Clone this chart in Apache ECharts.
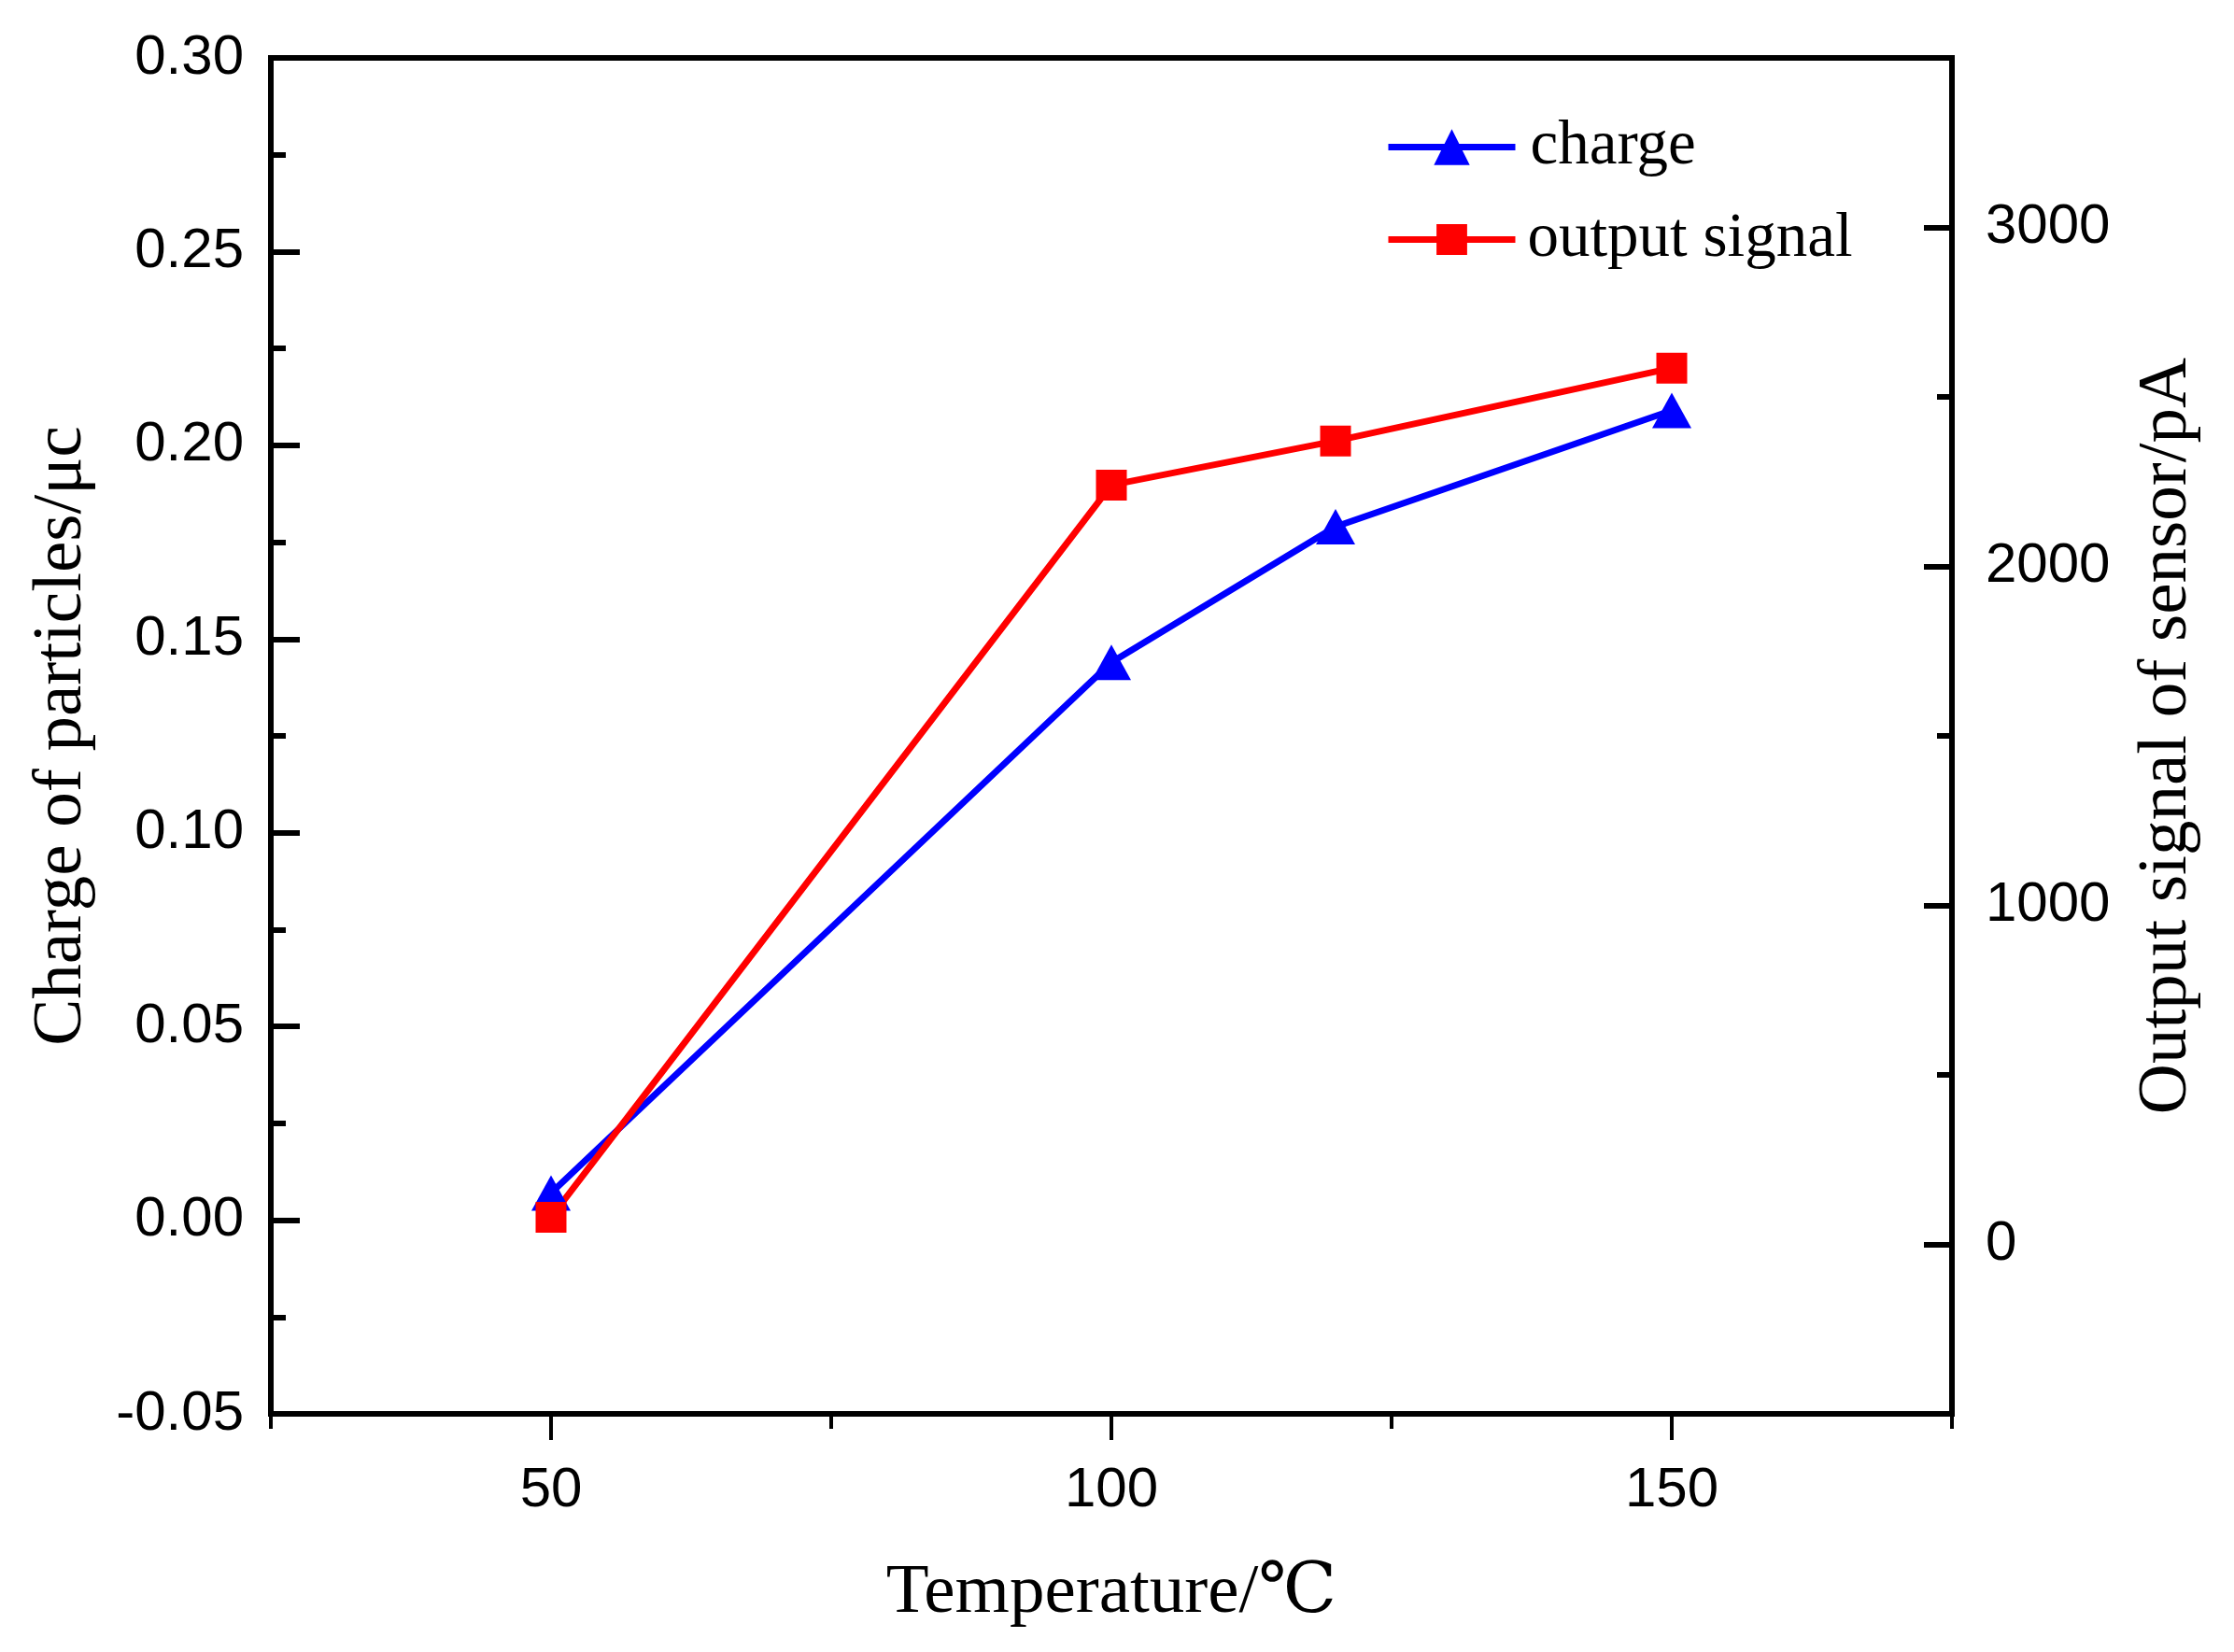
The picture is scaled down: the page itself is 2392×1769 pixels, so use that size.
<!DOCTYPE html>
<html><head><meta charset="utf-8">
<script src="https://cdn.jsdelivr.net/npm/echarts@6/dist/echarts.min.js"></script>
<style>html,body{margin:0;padding:0;background:#fff}#c{width:2392px;height:1769px}</style>
</head><body><div id="c"></div>
<script>
const temperatures = [50, 100, 120, 150];
const chargeValues = [0.007, 0.144, 0.179, 0.209];
const signalValues = [80, 2240, 2370, 2585];
const xTickLabels = [50, 100, 150];
const xMinorTicks = [25, 75, 125, 175];
const rightTickLabels = [0, 1000, 2000, 3000];
const rightMinorTicks = [-500, 500, 1500, 2500, 3500];

const chart = echarts.init(document.getElementById('c'), null, {renderer: 'canvas'});
const serif = '"Liberation Serif", "DejaVu Serif", "Times New Roman", serif';
const sans = '"Liberation Sans", Arial, sans-serif';
const option = {
  backgroundColor: '#fff',
  animation: false,
  grid: {left: 290, right: 302, top: 62, bottom: 255, show: true, borderWidth: 6, borderColor: '#000'},
  legend: [
    {data: ['charge'], left: 1483, top: 124, padding: 0, itemWidth: 136, itemHeight: 48, selectedMode: false,
     lineStyle: {width: 7},
     textStyle: {fontFamily: serif, fontSize: 67, color: '#000', padding: [0, 0, 0, 11]}},
    {data: ['output signal'], left: 1483, top: 223, padding: 0, itemWidth: 136, itemHeight: 41, selectedMode: false,
     lineStyle: {width: 7},
     textStyle: {fontFamily: serif, fontSize: 67, color: '#000', padding: [0, 0, 0, 8]}}
  ],
  xAxis: [
    {type: 'value', min: 25, max: 175, position: 'bottom',
     name: 'Temperature/℃', nameLocation: 'middle', nameGap: 155,
     nameTextStyle: {fontFamily: serif, fontSize: 75, color: '#000'},
     axisLine: {show: true, onZero: false, lineStyle: {color: '#000', width: 6}},
     axisTick: {show: true, inside: false, length: 28, lineStyle: {color: '#000', width: 4}, customValues: xTickLabels},
     axisLabel: {show: true, customValues: xTickLabels, margin: 52, fontFamily: sans, fontSize: 60, color: '#000'},
     splitLine: {show: false}},
    {type: 'value', min: 25, max: 175, position: 'bottom',
     axisLine: {show: false, onZero: false},
     axisTick: {show: true, inside: false, length: 16, lineStyle: {color: '#000', width: 4}, customValues: xMinorTicks},
     axisLabel: {show: false}, splitLine: {show: false}}
  ],
  yAxis: [
    {type: 'value', min: -0.05, max: 0.30, interval: 0.05, position: 'left',
     name: 'Charge of particles/μc', nameLocation: 'middle', nameGap: 186, nameRotate: 90,
     nameTextStyle: {fontFamily: serif, fontSize: 75, color: '#000'},
     axisLine: {show: true, onZero: false, lineStyle: {color: '#000', width: 6}},
     axisTick: {show: true, inside: true, length: 31, lineStyle: {color: '#000', width: 6}},
     minorTick: {show: true, splitNumber: 2, length: 16, lineStyle: {color: '#000', width: 6}},
     axisLabel: {margin: 29, fontFamily: sans, fontSize: 60, color: '#000', formatter: v => v.toFixed(2)},
     splitLine: {show: false}},
    {type: 'value', min: -500, max: 3500, position: 'right',
     name: 'Output signal of sensor/pA', nameLocation: 'middle', nameGap: 193, nameRotate: 90,
     nameTextStyle: {fontFamily: serif, fontSize: 75, color: '#000'},
     axisLine: {show: true, onZero: false, lineStyle: {color: '#000', width: 6}},
     axisTick: {show: true, inside: true, length: 30, lineStyle: {color: '#000', width: 6}, customValues: rightTickLabels},
     axisLabel: {customValues: rightTickLabels, margin: 36, fontFamily: sans, fontSize: 60, color: '#000',
                 formatter: v => String(Math.round(v))},
     splitLine: {show: false}},
    {type: 'value', min: -500, max: 3500, position: 'right',
     axisLine: {show: false, onZero: false},
     axisTick: {show: true, inside: true, length: 16, lineStyle: {color: '#000', width: 6}, customValues: rightMinorTicks},
     axisLabel: {show: false}, splitLine: {show: false}}
  ],
  series: [
    {name: 'charge', type: 'line', xAxisIndex: 0, yAxisIndex: 0,
     data: temperatures.map((t, i) => [t, chargeValues[i]]),
     symbol: 'triangle', symbolSize: [42, 38],
     lineStyle: {color: '#0000ff', width: 7}, itemStyle: {color: '#0000ff'}},
    {name: 'output signal', type: 'line', xAxisIndex: 0, yAxisIndex: 1,
     data: temperatures.map((t, i) => [t, signalValues[i]]),
     symbol: 'rect', symbolSize: 33,
     lineStyle: {color: '#ff0000', width: 7}, itemStyle: {color: '#ff0000'}}
  ]
};
chart.setOption(option);
</script>
</body></html>
